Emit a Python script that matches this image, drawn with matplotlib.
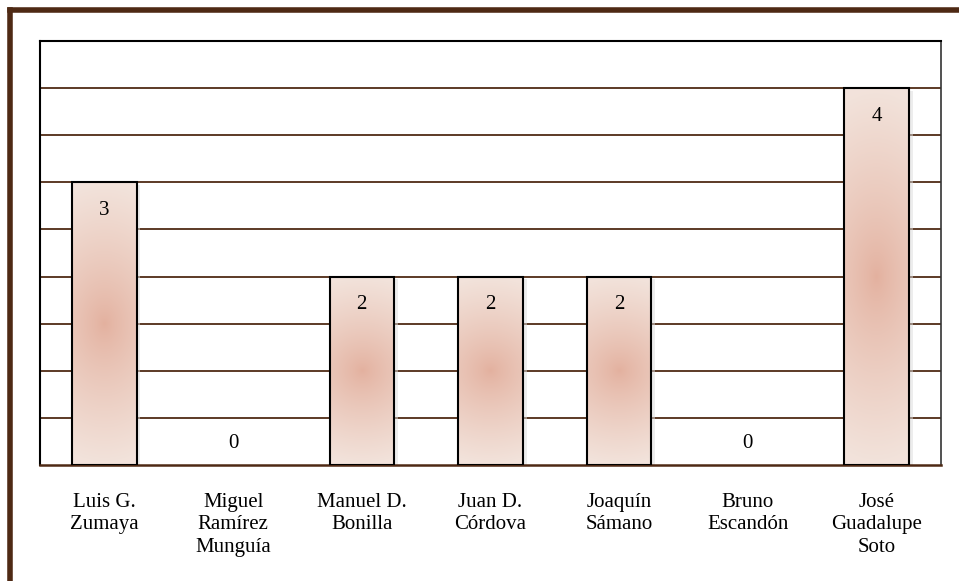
import numpy as np
import matplotlib.pyplot as plt
from matplotlib.patches import Rectangle
from matplotlib.lines import Line2D

names = ['Luis G.\nZumaya', 'Miguel\nRamírez\nMunguía', 'Manuel D.\nBonilla',
         'Juan D.\nCórdova', 'Joaquín\nSámano', 'Bruno\nEscandón',
         'José\nGuadalupe\nSoto']
values = [3, 0, 2, 2, 2, 0, 4]

plt.rcParams['font.family'] = ['Liberation Serif', 'DejaVu Serif']

fig = plt.figure(figsize=(9.59, 5.81), dpi=100)
ax = fig.add_axes([40 / 959, 116 / 581, 901 / 959, 424 / 581])

# brown page frame (top and left only visible)
fig.add_artist(Line2D([10 / 959, 1.0], [1 - 10 / 581, 1 - 10 / 581],
                      color='#4e2914', lw=4, transform=fig.transFigure))
fig.add_artist(Line2D([10 / 959, 10 / 959], [0, 1 - 10 / 581],
                      color='#4e2914', lw=4, transform=fig.transFigure))

x = np.arange(len(values))
width = 0.5

# radial gradient for bars
gy, gx = np.mgrid[-1:1:200j, -1:1:60j]
r = np.clip(np.sqrt((gx / 3.0) ** 2 + gy ** 2), 0, 1) ** 0.8
c_in = np.array([0.89, 0.69, 0.62])
c_out = np.array([0.95, 0.89, 0.86])
grad = c_in[None, None, :] * (1 - r[..., None]) + c_out[None, None, :] * r[..., None]

for xi, v in zip(x, values):
    if v > 0:
        shadow = Rectangle((xi - width / 2 + 0.03, -0.03), width, v,
                           facecolor='#dddddd', edgecolor='none', zorder=2, alpha=0.5)
        ax.add_patch(shadow)
        im = ax.imshow(grad, extent=(xi - width / 2, xi + width / 2, 0, v),
                       aspect='auto', zorder=3, origin='lower')
        rect = Rectangle((xi - width / 2, 0), width, v, facecolor='none',
                         edgecolor='black', lw=1.5, zorder=4)
        ax.add_patch(rect)
        im.set_clip_path(rect)
        ax.text(xi, v - 0.3, str(v), ha='center', va='center', fontsize=15, zorder=5)
    else:
        ax.text(xi, 0.23, str(v), ha='center', va='center', fontsize=15, zorder=5)

ax.set_xlim(-0.5, len(values) - 0.5)
ax.set_ylim(0, 4.5)
ax.set_yticks(np.arange(0.5, 4.5, 0.5))
ax.set_yticklabels([])
ax.tick_params(axis='y', length=0)
ax.grid(axis='y', color='#5c3a26', lw=1.4, zorder=1)
ax.set_axisbelow(True)

ax.set_xticks(x)
ax.set_xticklabels(names, fontsize=15, linespacing=1.25)
ax.tick_params(axis='x', length=0, pad=20)

for s in ['left', 'top']:
    ax.spines[s].set_color('black')
    ax.spines[s].set_linewidth(1.5)
ax.spines['right'].set_color('#333333')
ax.spines['right'].set_linewidth(1.2)
ax.spines['bottom'].set_color('#4e2914')
ax.spines['bottom'].set_linewidth(1.8)

fig.savefig('out.png', dpi=100)
